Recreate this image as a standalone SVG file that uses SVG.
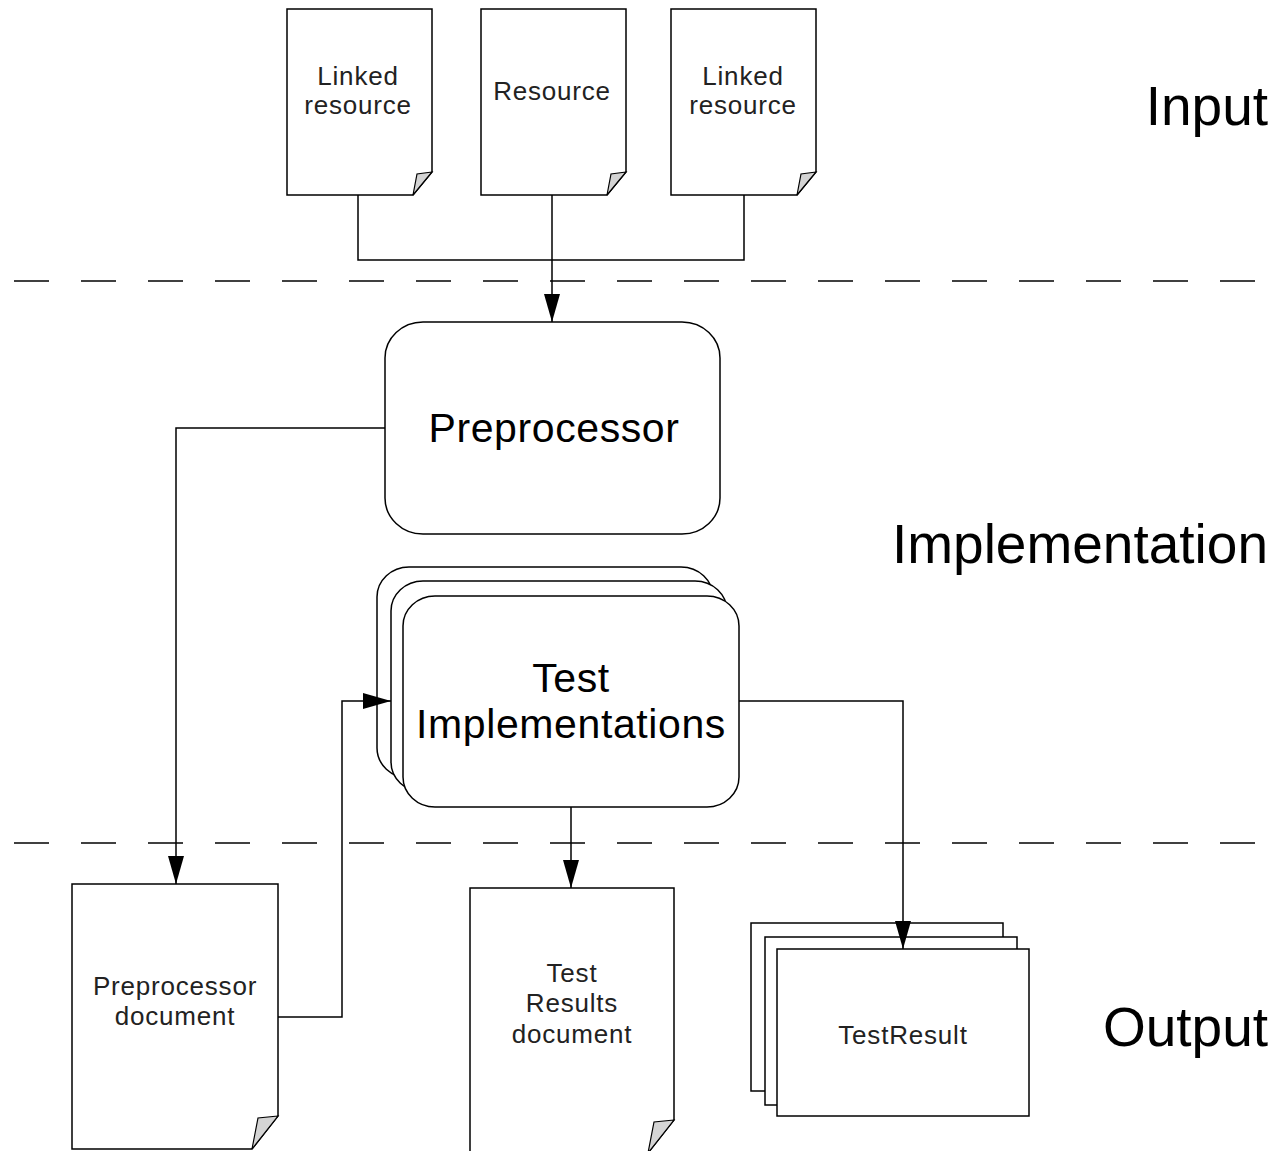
<svg xmlns="http://www.w3.org/2000/svg" width="1276" height="1151" viewBox="0 0 1276 1151">
<style>
.shape{fill:#fff;stroke:#000;stroke-width:1.5}
.fold{fill:#d4d4d4;stroke:#000;stroke-width:1.2}
.conn{fill:none;stroke:#000;stroke-width:1.5}
.dash{fill:none;stroke:#404040;stroke-width:2;stroke-dasharray:35 32}
.lbl{font-family:"Liberation Sans",Arial,sans-serif;font-size:26px;letter-spacing:0.8px;fill:#222;text-anchor:middle}
.big{font-family:"Liberation Sans",Arial,sans-serif;font-size:41px;letter-spacing:0.6px;fill:#000;text-anchor:middle}
.zone{font-family:"Liberation Sans",Arial,sans-serif;font-size:55px;fill:#000;text-anchor:end}
</style>
<defs>
<marker id="arr" viewBox="0 0 28 16" refX="28" refY="8" markerWidth="28" markerHeight="16" markerUnits="userSpaceOnUse" orient="auto">
<path d="M0,0 L28,8 L0,16 Z" fill="#000"/>
</marker>
</defs>
<rect width="1276" height="1151" fill="#fff"/>
<g id="separators">
<line class="dash" x1="14" y1="281" x2="1262" y2="281"/>
<line class="dash" x1="14" y1="843" x2="1262" y2="843"/>
</g>
<g id="zone-labels">
<text class="zone" x="1268" y="125">Input</text>
<text class="zone" x="1268" y="563">Implementation</text>
<text class="zone" x="1268" y="1046">Output</text>
</g>
<g id="linked-resource-1">
<path class="shape" d="M287,9 H432 V172 L413,195 H287 Z"/>
<path class="fold" d="M432,172 L417,174 L413,195 Z"/>
<text class="lbl" x="358" y="85">Linked</text>
<text class="lbl" x="358" y="114">resource</text>
</g>
<g id="resource">
<path class="shape" d="M481,9 H626 V172 L607,195 H481 Z"/>
<path class="fold" d="M626,172 L611,174 L607,195 Z"/>
<text class="lbl" x="552" y="100">Resource</text>
</g>
<g id="linked-resource-2">
<path class="shape" d="M671,9 H816 V172 L797,195 H671 Z"/>
<path class="fold" d="M816,172 L801,174 L797,195 Z"/>
<text class="lbl" x="743" y="85">Linked</text>
<text class="lbl" x="743" y="114">resource</text>
</g>
<g id="preprocessor">
<rect class="shape" x="385" y="322" width="335" height="212" rx="38" ry="36"/>
<text class="big" x="554" y="442">Preprocessor</text>
</g>
<g id="test-implementations">
<rect class="shape" x="377" y="567" width="336" height="211" rx="32" ry="30"/>
<rect class="shape" x="391" y="581" width="336" height="211" rx="32" ry="30"/>
<rect class="shape" x="403" y="596" width="336" height="211" rx="32" ry="30"/>
<text class="big" x="571" y="692">Test</text>
<text class="big" x="571" y="738">Implementations</text>
</g>
<g id="preprocessor-document">
<path class="shape" d="M72,884 H278 V1116 L252,1149 H72 Z"/>
<path class="fold" d="M278,1116 L258,1118 L252,1149 Z"/>
<text class="lbl" x="175" y="995">Preprocessor</text>
<text class="lbl" x="175" y="1025">document</text>
</g>
<g id="test-results-document">
<path class="shape" d="M470,888 H674 V1120 L648,1153 H470 Z"/>
<path class="fold" d="M674,1120 L654,1122 L648,1153 Z"/>
<text class="lbl" x="572" y="982">Test</text>
<text class="lbl" x="572" y="1012">Results</text>
<text class="lbl" x="572" y="1043">document</text>
</g>
<g id="test-result">
<rect class="shape" x="751" y="923" width="252" height="168"/>
<rect class="shape" x="765" y="937" width="252" height="168"/>
<rect class="shape" x="777" y="949" width="252" height="167"/>
<text class="lbl" x="903" y="1044">TestResult</text>
</g>
<g id="connectors">
<path class="conn" d="M358,195 V260 H744 V195"/>
<path class="conn" d="M552,195 V322" marker-end="url(#arr)"/>
<path class="conn" d="M385,428 H176 V884" marker-end="url(#arr)"/>
<path class="conn" d="M278,1017 H342 V701 H391" marker-end="url(#arr)"/>
<path class="conn" d="M571,807 V888" marker-end="url(#arr)"/>
<path class="conn" d="M739,701 H903 V949" marker-end="url(#arr)"/>
</g>
</svg>
